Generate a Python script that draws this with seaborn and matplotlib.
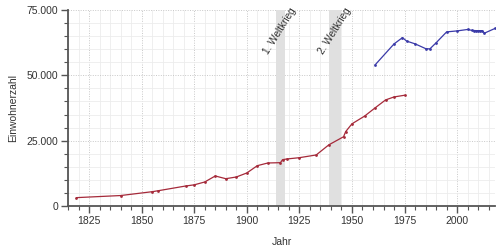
import matplotlib
matplotlib.use("Agg")
import matplotlib.pyplot as plt
import matplotlib.ticker as mticker
import seaborn as sns
import pandas as pd

years_old = [1819, 1840, 1855, 1858, 1871, 1875, 1880, 1885, 1890, 1895, 1900,
             1905, 1910, 1916, 1917, 1919, 1925, 1933, 1939, 1946, 1947,
             1950, 1956, 1961, 1966, 1970, 1975]
pop_old = [3200, 4000, 5470, 5860, 7660, 8100, 9190, 11490, 10450, 11100, 12630,
           15430, 16460, 16580, 17730, 17990, 18490, 19530, 23400, 26500, 28450,
           31450, 34400, 37550, 40600, 41730, 42380]

years_new = [1961, 1970, 1974, 1976, 1980, 1985, 1987, 1990, 1995, 2000, 2005,
             2007, 2008, 2009, 2010, 2011, 2012, 2013, 2018]
pop_new = [54000, 62020, 64430, 63100, 62050, 60230, 60100, 62450, 66620, 67000, 67550,
           67200, 67150, 67100, 67100, 67100, 67100, 66150, 67950]

wars = [(1914, 1918, "1. Weltkrieg"), (1939, 1945, "2. Weltkrieg")]

sns.set_theme(style="white")
plt.rcParams['font.family'] = ['Liberation Sans', 'DejaVu Sans']

fig = plt.figure(figsize=(5, 2.5), dpi=100)
ax = fig.add_axes([0.136, 0.176, 0.854, 0.784])

for a, b, _ in wars:
    ax.axvspan(a, b, color="#e0e0e0", lw=0, zorder=1)

df_old = pd.DataFrame({"Jahr": years_old, "Einwohner": pop_old})
df_new = pd.DataFrame({"Jahr": years_new, "Einwohner": pop_new})
sns.lineplot(data=df_old, x="Jahr", y="Einwohner", ax=ax, color="#a52a3a", lw=0.9,
             marker="o", markersize=2, markeredgewidth=0, zorder=3)
sns.lineplot(data=df_new, x="Jahr", y="Einwohner", ax=ax, color="#3a3aa8", lw=0.9,
             marker="o", markersize=2, markeredgewidth=0, zorder=3)

ax.set_xlim(1815, 2018)
ax.set_ylim(0, 75000)
ax.xaxis.set_major_locator(mticker.MultipleLocator(25))
ax.xaxis.set_minor_locator(mticker.MultipleLocator(5))
ax.yaxis.set_major_locator(mticker.MultipleLocator(25000))
ax.yaxis.set_minor_locator(mticker.MultipleLocator(5000))
ax.yaxis.set_major_formatter(mticker.FuncFormatter(lambda v, p: f"{int(v):,}".replace(",", ".")))

ax.grid(which="minor", color="#ececec", lw=0.6, zorder=0)
ax.grid(which="major", color="#c8c8c8", lw=0.7, ls=(0, (1, 1.5)), zorder=0)
ax.set_axisbelow(True)

for s in ["top", "right"]:
    ax.spines[s].set_visible(False)
for s in ["left", "bottom"]:
    ax.spines[s].set_color("#555555")
    ax.spines[s].set_linewidth(1.3)

ax.tick_params(which="major", direction="out", length=5, width=1, color="#555555",
               labelsize=7.5, labelcolor="#333333", left=True, bottom=True, pad=2)
ax.tick_params(which="minor", direction="out", length=3, width=0.8, color="#555555",
               left=True, bottom=True)

ax.set_xlabel("Jahr", fontsize=7.5, color="#333333", labelpad=8)
ax.set_ylabel("Einwohnerzahl", fontsize=7.5, color="#333333", labelpad=6)

for a, b, label in wars:
    ax.text((a + b) / 2 + 6.3, 75300, label, rotation=58, ha="right", va="center",
            fontsize=7.2, color="#333333", rotation_mode="anchor",
            transform=ax.transData, zorder=4, clip_on=False)

fig.savefig("out.png", dpi=100)
